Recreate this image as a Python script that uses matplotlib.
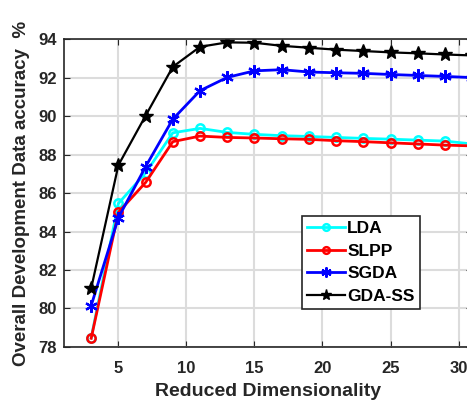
import matplotlib.pyplot as plt

dims = [3, 5, 7, 9, 11, 13, 15, 17, 19, 21, 23, 25, 27, 29, 31]
lda = [78.48, 85.46, 87.04, 89.13, 89.36, 89.15, 89.05, 88.98, 88.94, 88.89, 88.84, 88.80, 88.75, 88.70, 88.55]
slpp = [78.45, 85.00, 86.55, 88.67, 88.96, 88.89, 88.86, 88.82, 88.79, 88.72, 88.67, 88.61, 88.55, 88.49, 88.45]
sgda = [80.15, 84.72, 87.37, 89.84, 91.32, 92.01, 92.35, 92.41, 92.29, 92.25, 92.22, 92.16, 92.11, 92.06, 92.00]
gdass = [81.05, 87.45, 90.02, 92.56, 93.60, 93.83, 93.81, 93.65, 93.55, 93.45, 93.38, 93.31, 93.26, 93.20, 93.15]

plt.rcParams['font.family'] = ['Liberation Sans', 'DejaVu Sans']
plt.rcParams['font.weight'] = 'bold'
dark = '#262626'

fig = plt.figure(figsize=(4.67, 4.03), dpi=100)
ax = fig.add_axes([0.137, 0.139, 0.874, 0.764])

ax.plot(dims, lda, color='cyan', marker='o', ms=6, mfc='none', mew=1.8, lw=2, label='LDA')
ax.plot(dims, slpp, color='red', marker='o', ms=6, mfc='none', mew=1.8, lw=2, label='SLPP')
ax.plot(dims, sgda, color='blue', marker=(6, 2, 0), ms=9, mew=1.6, lw=2, label='SGDA')
ax.plot(dims, gdass, color='black', marker='*', ms=10, lw=1.6, label='GDA-SS')

ax.set_xlim(1, 31)
ax.set_ylim(78, 94)
ax.set_xticks([5, 10, 15, 20, 25, 30])
ax.set_yticks(range(78, 95, 2))
ax.grid(True, color='#dcdcdc', lw=1.5)
ax.set_axisbelow(True)
ax.tick_params(direction='in', top=True, right=True, labelsize=12, length=4,
               color=dark, labelcolor=dark, pad=5)
ax.tick_params(axis='x', pad=10)
for s in ax.spines.values():
    s.set_color(dark)
    s.set_linewidth(1.2)

ax.set_xlabel('Reduced Dimensionality', fontsize=14, fontweight='bold', color=dark, labelpad=5)
ax.set_ylabel('Overall Development Data accuracy  %', fontsize=13.5, fontweight='bold',
              color=dark, labelpad=6)

leg = ax.legend(loc='upper left', bbox_to_anchor=(0.583, 0.425), fontsize=12.5, handlelength=2.2,
                handletextpad=0.1, borderpad=0.3, labelspacing=0.42, fancybox=False,
                framealpha=1, markerscale=0.8, borderaxespad=0)
leg.get_frame().set_edgecolor(dark)
leg.get_frame().set_linewidth(1.2)

fig.savefig('out.png', dpi=100)
